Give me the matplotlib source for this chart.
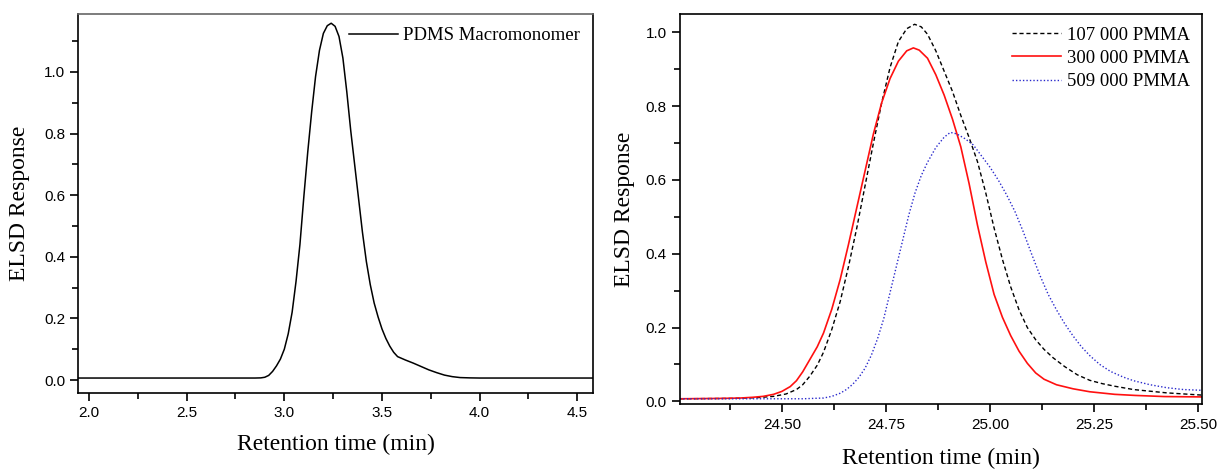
import matplotlib
matplotlib.use("Agg")
import matplotlib.pyplot as plt
from matplotlib.ticker import MultipleLocator, FormatStrFormatter

# ---- Left panel data: PDMS Macromonomer ----
pdms_t = [1.945, 2.50, 2.85, 2.88, 2.90, 2.92, 2.94, 2.96, 2.98, 3.00, 3.02, 3.04, 3.06,
          3.08, 3.10, 3.12, 3.14, 3.16, 3.18, 3.20, 3.22, 3.24, 3.26, 3.28, 3.30, 3.32,
          3.34, 3.36, 3.38, 3.40, 3.42, 3.44, 3.46, 3.48, 3.50, 3.52, 3.54, 3.56, 3.58,
          3.62, 3.66, 3.70, 3.74, 3.78, 3.82, 3.86, 3.90, 3.95, 4.00, 4.582]
pdms_y = [0.0065, 0.0065, 0.0065, 0.007, 0.009, 0.015, 0.028, 0.046, 0.068, 0.100, 0.150,
          0.220, 0.320, 0.440, 0.595, 0.740, 0.870, 0.985, 1.070, 1.125, 1.150, 1.158,
          1.148, 1.115, 1.045, 0.935, 0.810, 0.700, 0.590, 0.480, 0.385, 0.310, 0.250,
          0.205, 0.166, 0.135, 0.110, 0.090, 0.076, 0.065, 0.055, 0.044, 0.033, 0.024,
          0.016, 0.011, 0.008, 0.007, 0.0065, 0.0065]

# ---- Right panel data: PMMA ----
p107_t = [24.255, 24.38, 24.44, 24.48, 24.51, 24.535, 24.55, 24.567, 24.585, 24.60, 24.62,
          24.64, 24.66, 24.68, 24.70, 24.72, 24.74, 24.76, 24.78, 24.80, 24.819, 24.835,
          24.85, 24.87, 24.89, 24.91, 24.93, 24.95, 24.97, 24.99, 25.01, 25.03, 25.05,
          25.07, 25.09, 25.11, 25.13, 25.152, 25.18, 25.21, 25.24, 25.27, 25.30, 25.345,
          25.425, 25.509]
p107_y = [0.007, 0.008, 0.010, 0.0135, 0.020, 0.032, 0.045, 0.068, 0.098, 0.133, 0.195,
          0.270, 0.365, 0.470, 0.585, 0.700, 0.810, 0.905, 0.975, 1.010, 1.022, 1.015,
          0.995, 0.950, 0.895, 0.840, 0.775, 0.715, 0.650, 0.565, 0.470, 0.385, 0.310,
          0.248, 0.200, 0.167, 0.141, 0.118, 0.094, 0.072, 0.057, 0.048, 0.041, 0.032,
          0.023, 0.017]

p300_t = [24.255, 24.35, 24.40, 24.43, 24.455, 24.48, 24.50, 24.52, 24.535, 24.55, 24.567,
          24.585, 24.60, 24.62, 24.64, 24.66, 24.68, 24.70, 24.72, 24.74, 24.76, 24.78,
          24.80, 24.816, 24.83, 24.85, 24.87, 24.89, 24.91, 24.93, 24.95, 24.97, 24.99,
          25.01, 25.03, 25.05, 25.07, 25.09, 25.11, 25.13, 25.16, 25.20, 25.24, 25.30,
          25.35, 25.42, 25.509]
p300_y = [0.007, 0.008, 0.009, 0.011, 0.0135, 0.019, 0.027, 0.040, 0.056, 0.080, 0.113,
          0.148, 0.185, 0.250, 0.330, 0.425, 0.525, 0.625, 0.725, 0.810, 0.875, 0.922,
          0.950, 0.958, 0.952, 0.930, 0.885, 0.830, 0.765, 0.690, 0.590, 0.478, 0.378,
          0.290, 0.228, 0.178, 0.136, 0.103, 0.077, 0.060, 0.045, 0.034, 0.026, 0.019,
          0.016, 0.013, 0.012]

p509_t = [24.255, 24.55, 24.60, 24.62, 24.64, 24.655, 24.67, 24.685, 24.70, 24.715, 24.73,
          24.745, 24.76, 24.775, 24.79, 24.805, 24.82, 24.835, 24.85, 24.87, 24.89, 24.905,
          24.92, 24.94, 24.96, 24.98, 25.00, 25.02, 25.04, 25.06, 25.08, 25.10, 25.12,
          25.14, 25.16, 25.18, 25.20, 25.22, 25.24, 25.264, 25.29, 25.32, 25.345, 25.385,
          25.425, 25.465, 25.509]
p509_y = [0.007, 0.007, 0.009, 0.0135, 0.022, 0.032, 0.046, 0.065, 0.090, 0.125, 0.170,
          0.225, 0.295, 0.365, 0.435, 0.505, 0.565, 0.612, 0.648, 0.688, 0.716, 0.729,
          0.725, 0.712, 0.695, 0.665, 0.635, 0.600, 0.560, 0.515, 0.460, 0.400, 0.342,
          0.290, 0.248, 0.210, 0.177, 0.148, 0.124, 0.100, 0.081, 0.066, 0.056, 0.045,
          0.037, 0.032, 0.030]

series_labels = ["107 000 PMMA", "300 000 PMMA", "509 000 PMMA"]
pdms_label = "PDMS Macromonomer"
xlabel = "Retention time (min)"
ylabel = "ELSD Response"

serif = ["Liberation Serif", "DejaVu Serif"]
sans = ["Liberation Sans", "DejaVu Sans"]
plt.rcParams["font.family"] = sans

fig = plt.figure(figsize=(12.19, 4.71), dpi=100)
ax1 = fig.add_axes([0.0642, 0.165, 0.4225, 0.8053])
ax2 = fig.add_axes([0.5578, 0.1416, 0.4280, 0.8280])

def style(ax):
    for s in ax.spines.values():
        s.set_linewidth(1.2)
        s.set_color("black")
    ax.tick_params(which="both", direction="out", top=False, right=False,
                   labelsize=11, width=1.2)
    ax.tick_params(which="major", length=6)
    ax.tick_params(which="minor", length=4)

# Left panel
ax1.plot(pdms_t, pdms_y, color="black", lw=1.1, label=pdms_label)
ax1.set_xlim(1.945, 4.582)
ax1.set_ylim(-0.043, 1.188)
ax1.xaxis.set_major_locator(MultipleLocator(0.5))
ax1.xaxis.set_minor_locator(MultipleLocator(0.25))
ax1.yaxis.set_major_locator(MultipleLocator(0.2))
ax1.yaxis.set_minor_locator(MultipleLocator(0.1))
ax1.xaxis.set_major_formatter(FormatStrFormatter("%.1f"))
ax1.yaxis.set_major_formatter(FormatStrFormatter("%.1f"))
style(ax1)
ax1.spines["top"].set_color("#666666")
ax1.set_xlabel(xlabel, fontfamily=serif, fontsize=17, labelpad=10)
ax1.set_ylabel(ylabel, fontfamily=serif, fontsize=17, labelpad=10)
ax1.legend(loc="upper right", frameon=False, prop={"family": serif, "size": 13.5},
           handlelength=2.6, handletextpad=0.3, borderaxespad=0.3)

# Right panel
ax2.plot(p107_t, p107_y, color="black", lw=1.0, ls=(0, (3, 2)), label=series_labels[0])
ax2.plot(p300_t, p300_y, color="#ff1010", lw=1.2, ls="-", label=series_labels[1])
ax2.plot(p509_t, p509_y, color="#2a2acc", lw=1.0, ls=(0, (1, 1.5)), label=series_labels[2])
ax2.set_xlim(24.255, 25.509)
ax2.set_ylim(-0.008, 1.049)
ax2.xaxis.set_major_locator(MultipleLocator(0.25))
ax2.xaxis.set_minor_locator(MultipleLocator(0.125))
ax2.yaxis.set_major_locator(MultipleLocator(0.2))
ax2.yaxis.set_minor_locator(MultipleLocator(0.1))
ax2.xaxis.set_major_formatter(FormatStrFormatter("%.2f"))
ax2.yaxis.set_major_formatter(FormatStrFormatter("%.1f"))
style(ax2)
ax2.set_xlabel(xlabel, fontfamily=serif, fontsize=17, labelpad=12)
ax2.set_ylabel(ylabel, fontfamily=serif, fontsize=17, labelpad=8)
ax2.legend(loc="upper right", frameon=False, prop={"family": serif, "size": 13.5},
           handlelength=2.6, handletextpad=0.3, borderaxespad=0.25, labelspacing=0.33)

fig.savefig("out.png", dpi=100)
